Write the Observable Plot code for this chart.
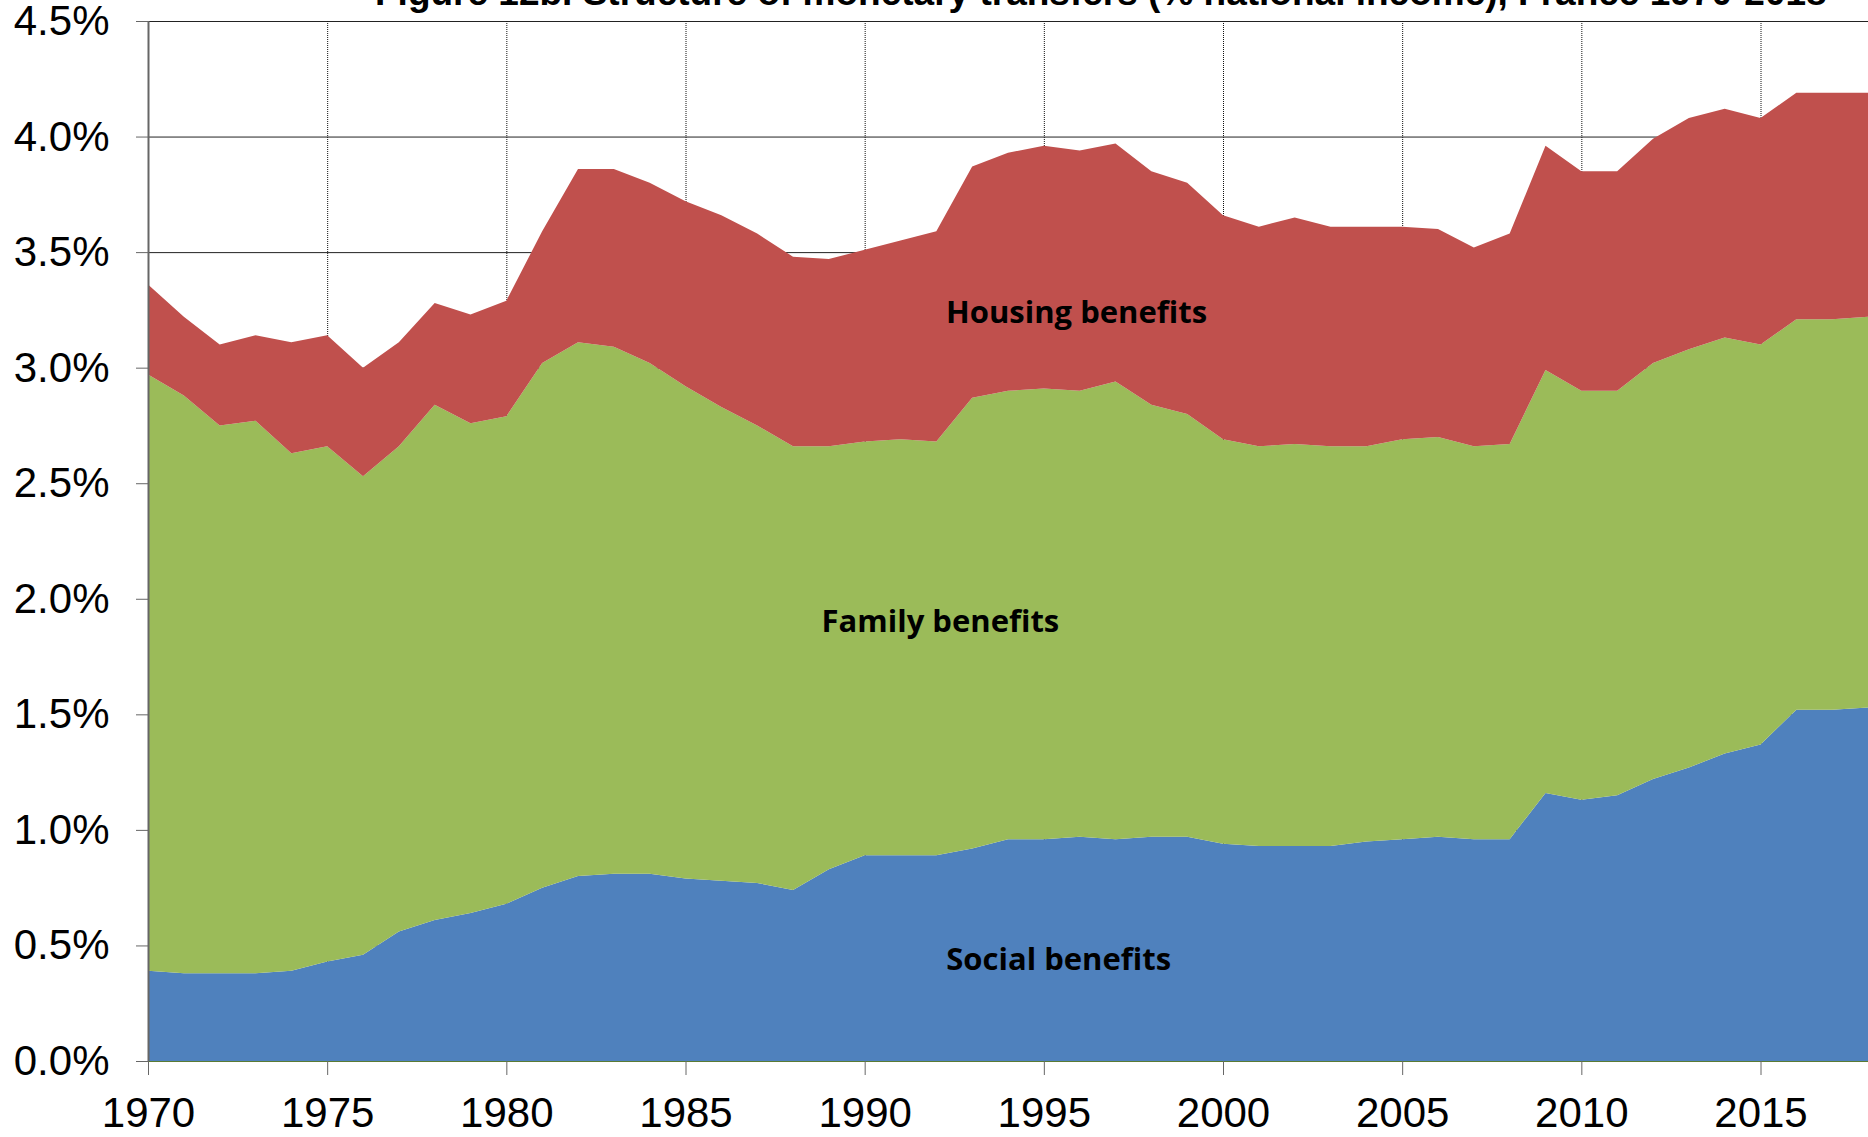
<!DOCTYPE html>
<html>
<head>
<meta charset="utf-8">
<script src="https://cdn.jsdelivr.net/npm/d3@7"></script>
<script src="https://cdn.jsdelivr.net/npm/@observablehq/plot@0.6"></script>
<style>
  html, body { margin: 0; padding: 0; background: #fff; overflow: hidden; }
  #wrap { position: relative; width: 1868px; height: 1137px; }
  #title { position: absolute; left: 375px; top: -26px; font-family: "Liberation Sans", Arial, sans-serif;
           font-weight: bold; font-size: 37px; line-height: 37px; white-space: nowrap; color: #000; z-index: 2; }
  #chart { position: absolute; left: 0; top: 0; }
</style>
</head>
<body>
<div id="wrap">
  <div id="title">Figure 12b. Structure of monetary transfers (% national income), France 1970-2018</div>
  <div id="chart"></div>
</div>
<script>
const years = d3.range(1970, 2019);
const seriesNames = ["Social benefits", "Family benefits", "Housing benefits"];
const seriesColors = ["#4F81BD", "#9BBB59", "#C0504D"];

const social = [0.39,0.38,0.38,0.38,0.39,0.43,0.46,0.56,0.61,0.64,0.68,0.75,0.80,0.81,0.81,0.79,0.78,0.77,0.74,0.83,
                0.89,0.89,0.89,0.92,0.96,0.96,0.97,0.96,0.97,0.97,0.94,0.93,0.93,0.93,0.95,0.96,0.97,0.96,0.96,1.16,
                1.13,1.15,1.22,1.27,1.33,1.37,1.52,1.52,1.53];
const family = [2.58,2.50,2.37,2.39,2.24,2.23,2.07,2.10,2.23,2.12,2.11,2.27,2.31,2.28,2.21,2.13,2.05,1.98,1.92,1.83,
                1.79,1.80,1.79,1.95,1.94,1.95,1.93,1.98,1.87,1.83,1.75,1.73,1.74,1.73,1.71,1.73,1.73,1.70,1.71,1.83,
                1.77,1.75,1.80,1.81,1.80,1.73,1.69,1.69,1.69];
const housing = [0.39,0.34,0.35,0.37,0.48,0.48,0.47,0.45,0.44,0.47,0.50,0.57,0.75,0.77,0.78,0.80,0.83,0.83,0.82,0.81,
                 0.83,0.86,0.91,1.00,1.03,1.05,1.04,1.03,1.01,1.00,0.97,0.95,0.98,0.95,0.95,0.92,0.90,0.86,0.91,0.97,
                 0.95,0.95,0.97,1.00,0.99,0.98,0.98,0.98,0.97];

const yTicks = [0, 0.5, 1, 1.5, 2, 2.5, 3, 3.5, 4, 4.5];
const xTicks = [1970, 1975, 1980, 1985, 1990, 1995, 2000, 2005, 2010, 2015];

const labels = [
  {year: 1995.9, value: 3.24, text: "Housing benefits"},
  {year: 1992.1, value: 1.90, text: "Family benefits"},
  {year: 1995.4, value: 0.44, text: "Social benefits"}
];

const seriesValues = [social, family, housing];
const data = [];
seriesNames.forEach((name, i) => {
  years.forEach((yr, j) => data.push({year: yr, value: seriesValues[i][j], series: name}));
});

const chart = Plot.plot({
  width: 1868,
  height: 1137,
  marginLeft: 148,
  marginRight: 0,
  marginTop: 21,
  marginBottom: 76,
  style: {fontFamily: "'Liberation Sans', Arial, sans-serif", background: "white", color: "#000"},
  x: {domain: [1970, 2018], ticks: xTicks, tickFormat: "d", label: null},
  y: {domain: [0, 4.5], ticks: yTicks, tickFormat: d => d.toFixed(1) + "%", label: null},
  color: {domain: seriesNames, range: seriesColors},
  marks: [
    Plot.ruleY(yTicks, {stroke: "#222", strokeWidth: 1}),
    Plot.ruleX(xTicks.slice(1), {stroke: "#111", strokeWidth: 1, strokeDasharray: "1,1"}),
    Plot.areaY(data, {x: "year", y: "value", z: "series", fill: "series", order: seriesNames}),
    Plot.ruleY([0], {stroke: "#5a7a33", strokeWidth: 1}),
    Plot.ruleX([1970], {stroke: "#666", strokeWidth: 2}),
    Plot.axisY({ticks: yTicks, tickFormat: d => d.toFixed(1) + "%", tickSize: 12, tickPadding: 27, fontSize: 42, stroke: "#666", label: null}),
    Plot.axisX({ticks: xTicks, tickFormat: "d", tickSize: 14, tickPadding: 22, fontSize: 42, stroke: "#666", label: null}),
    Plot.text(labels, {x: "year", y: "value", text: "text", fontSize: 31, fontWeight: "bold",
                       fontFamily: "'Open Sans', sans-serif", fill: "#000"})
  ]
});
document.getElementById("chart").appendChild(chart);
</script>
</body>
</html>
